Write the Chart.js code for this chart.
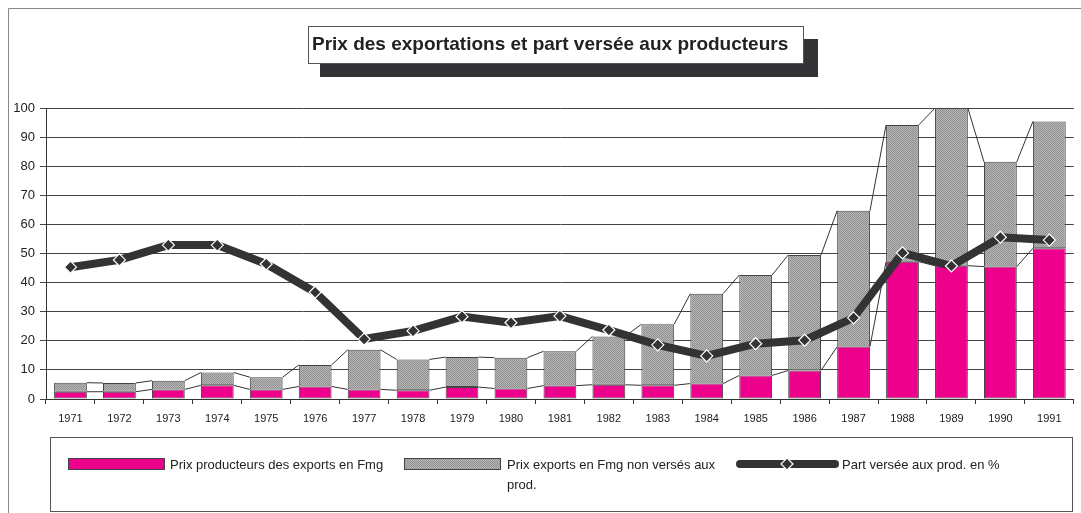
<!DOCTYPE html>
<html>
<head>
<meta charset="utf-8">
<script src="https://cdn.jsdelivr.net/npm/chart.js@4"></script>
<style>
  body { margin: 0; background: #fff; }
  canvas { display: block; }
</style>
</head>
<body>
<canvas id="exportChart" width="1081" height="513"></canvas>
<script>
const ctx = document.getElementById('exportChart');

const titleText = 'Prix des exportations et part versée aux producteurs';

const years = ['1971', '1972', '1973', '1974', '1975', '1976', '1977', '1978', '1979', '1980',
    '1981', '1982', '1983', '1984', '1985', '1986', '1987', '1988', '1989', '1990', '1991'];

// prix producteurs des exports (Fmg)
const prodPrices = [2.5, 2.5, 3.3, 4.7, 3.3, 4.3, 3.3, 3.0, 4.1, 3.6,
    4.6, 4.9, 4.7, 5.3, 8.1, 9.8, 18.0, 47.2, 45.8, 45.5, 51.8];

// part non versée aux producteurs (Fmg)
const unpaidPrices = [3.1, 3.0, 3.0, 4.4, 4.2, 7.4, 13.6, 10.6, 10.3, 10.6,
    11.8, 16.6, 21.0, 30.9, 34.5, 39.7, 46.7, 47.0, 54.2, 36.0, 43.6];

// part versée aux producteurs en %
const sharePct = [45.3, 47.8, 52.9, 52.9, 46.4, 36.7, 20.6, 23.4, 28.3, 26.2,
    28.5, 23.7, 18.6, 14.8, 19.0, 20.2, 27.9, 50.2, 45.7, 55.6, 54.6];

const yTicks = [0, 10, 20, 30, 40, 50, 60, 70, 80, 90, 100];

const labels = ['Prix producteurs des exports en Fmg', 'Prix exports en Fmg non versés aux prod.', 'Part versée aux prod. en %'];

const pink = '#ec008c';
const dark = '#333336';

function makePattern() {
    const c = document.createElement('canvas');
    c.width = 2;
    c.height = 2;
    const p = c.getContext('2d');
    p.fillStyle = '#b8b8b8';
    p.fillRect(0, 0, 2, 2);
    p.fillStyle = '#8e8e8e';
    p.fillRect(0, 0, 1, 1);
    p.fillRect(1, 1, 1, 1);
    return p.createPattern(c, 'repeat');
}
const greyPattern = makePattern();

// thin lines joining bar tops (Excel "series lines")
const seriesLines = {
    id: 'seriesLines',
    beforeDatasetsDraw(chart) {
        const c = chart.ctx;
        c.save();
        c.strokeStyle = '#333';
        c.lineWidth = 1;
        [0, 1].forEach((di) => {
            const bars = chart.getDatasetMeta(di).data;
            for (let i = 0; i < bars.length - 1; i++) {
                const a = bars[i], b = bars[i + 1];
                c.beginPath();
                c.moveTo(a.x + a.width / 2, a.y);
                c.lineTo(b.x - b.width / 2, b.y);
                c.stroke();
            }
        });
        c.restore();
    }
};

function diamond(c, x, y, r) {
    c.beginPath();
    c.moveTo(x, y - r);
    c.lineTo(x + r, y);
    c.lineTo(x, y + r);
    c.lineTo(x - r, y);
    c.closePath();
    c.fillStyle = dark;
    c.fill();
    c.strokeStyle = '#fff';
    c.lineWidth = 1.2;
    c.stroke();
}

// frame, title box and the boxed legend
const decorations = {
    id: 'decorations',
    afterDraw(chart) {
        const c = chart.ctx;
        c.save();

        // outer frame
        c.strokeStyle = '#888';
        c.lineWidth = 1;
        c.beginPath();
        c.moveTo(8.5, 520);
        c.lineTo(8.5, 8.5);
        c.lineTo(1090, 8.5);
        c.stroke();

        // title with shadow
        c.fillStyle = dark;
        c.fillRect(320, 39, 498, 38);
        c.fillStyle = '#fff';
        c.fillRect(308, 26, 495, 37);
        c.strokeStyle = '#555';
        c.strokeRect(308.5, 26.5, 495, 37);
        c.fillStyle = '#222';
        c.font = 'bold 19px "Liberation Sans", Arial, sans-serif';
        c.textBaseline = 'middle';
        c.fillText(titleText, 312, 45);

        // legend box
        c.strokeStyle = '#555';
        c.strokeRect(50.5, 437.5, 1022, 74);

        c.font = '13px "Liberation Sans", Arial, sans-serif';

        c.fillStyle = pink;
        c.fillRect(68, 458, 97, 12);
        c.strokeStyle = '#444';
        c.strokeRect(68.5, 458.5, 96, 11);
        c.fillStyle = '#222';
        c.fillText(labels[0], 170, 465);

        c.fillStyle = greyPattern;
        c.fillRect(404, 458, 97, 12);
        c.strokeRect(404.5, 458.5, 96, 11);
        c.fillStyle = '#222';
        const words = labels[1].split(' ');
        let line = '', y = 465;
        words.forEach((w) => {
            const test = line ? line + ' ' + w : w;
            if (c.measureText(test).width > 215 && line) {
                c.fillText(line, 507, y);
                line = w;
                y += 20;
            } else {
                line = test;
            }
        });
        c.fillText(line, 507, y);

        c.strokeStyle = dark;
        c.lineWidth = 8;
        c.lineCap = 'round';
        c.beginPath();
        c.moveTo(740, 464);
        c.lineTo(835, 464);
        c.stroke();
        diamond(c, 787, 464, 6);
        c.fillStyle = '#222';
        c.fillText(labels[2], 842, 465);

        c.restore();
    }
};

new Chart(ctx, {
    type: 'bar',
    data: {
        labels: years,
        datasets: [
            {
                label: labels[0],
                data: prodPrices,
                backgroundColor: pink,
                borderColor: '#444',
                borderWidth: 1,
                borderSkipped: false,
                stack: 'prix',
                order: 1
            },
            {
                label: labels[1],
                data: unpaidPrices,
                backgroundColor: greyPattern,
                borderColor: '#444',
                borderWidth: 1,
                borderSkipped: false,
                stack: 'prix',
                order: 2
            },
            {
                type: 'line',
                label: labels[2],
                data: sharePct,
                borderColor: dark,
                borderWidth: 8,
                tension: 0,
                pointStyle: 'rectRot',
                pointRadius: 6,
                pointBackgroundColor: dark,
                pointBorderColor: '#fff',
                pointBorderWidth: 1.2,
                stack: 'pct',
                order: 0
            }
        ]
    },
    options: {
        responsive: false,
        animation: false,
        categoryPercentage: 0.67,
        barPercentage: 1,
        layout: { padding: { top: 108, right: 2, left: 0, bottom: 0 } },
        scales: {
            x: {
                stacked: true,
                grid: { drawOnChartArea: false, tickLength: 5, color: '#333' },
                border: { color: '#333' },
                ticks: { font: { size: 11, family: '"Liberation Sans", Arial' }, color: '#222', padding: 8, maxRotation: 0 },
                afterFit(scale) { scale.height = 114; }
            },
            y: {
                stacked: true,
                min: 0,
                max: 100,
                afterBuildTicks(scale) { scale.ticks = yTicks.map((v) => ({ value: v })); },
                grid: { color: '#444', tickLength: 6 },
                border: { color: '#333' },
                ticks: { font: { size: 13, family: '"Liberation Sans", Arial' }, color: '#222', padding: 5 },
                afterFit(scale) { scale.width = 46; }
            }
        },
        plugins: {
            legend: { display: false },
            tooltip: { enabled: false }
        }
    },
    plugins: [seriesLines, decorations]
});
</script>
</body>
</html>
